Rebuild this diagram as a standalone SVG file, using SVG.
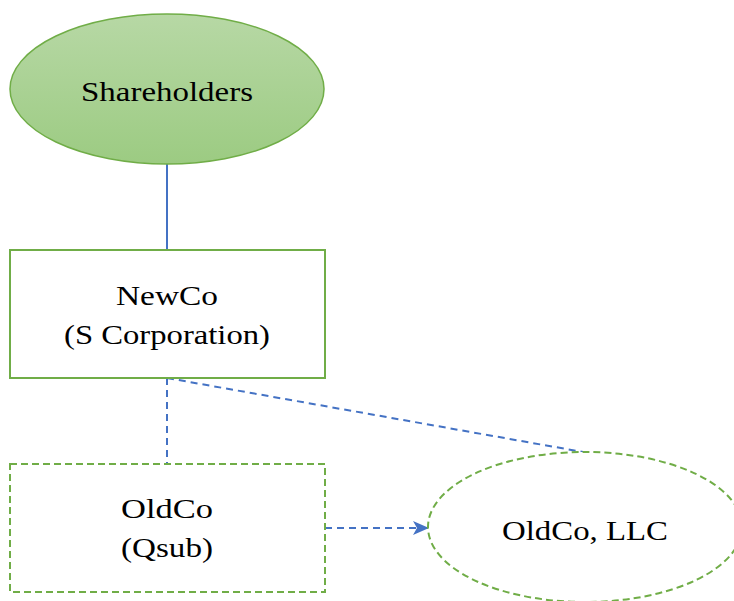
<svg xmlns="http://www.w3.org/2000/svg" width="734" height="601" viewBox="0 0 734 601">
<defs>
<linearGradient id="g" x1="0" y1="0" x2="0" y2="1">
<stop offset="0" stop-color="#b7d8a5"/>
<stop offset="1" stop-color="#9ccb82"/>
</linearGradient>
<marker id="ah" viewBox="0 0 16 14" refX="15" refY="7" markerWidth="16" markerHeight="14" markerUnits="userSpaceOnUse" orient="auto">
<path d="M0,0 L16,7 L0,14 L4,7 Z" fill="#4472c4"/>
</marker>
<style>
text{font-family:"Liberation Serif","Times New Roman",serif;font-size:28px;fill:#000;text-anchor:middle}
.solid{fill:#fff;stroke:#70ad47;stroke-width:2}
.dash{fill:#fff;stroke:#70ad47;stroke-width:2;stroke-dasharray:7 4}
.conn{fill:none;stroke:#4472c4;stroke-width:2}
.cdash{fill:none;stroke:#4472c4;stroke-width:2;stroke-dasharray:7 5}
</style>
</defs>
<rect width="734" height="601" fill="#fff"/>
<g id="connectors">
<line class="conn" x1="167" y1="164" x2="167" y2="250"/>
<line class="cdash" x1="167" y1="378" x2="167" y2="464"/>
<line class="cdash" x1="167" y1="378" x2="583" y2="452"/>
<line class="cdash" x1="325" y1="528" x2="428" y2="528" marker-end="url(#ah)"/>
</g>
<g id="shareholders">
<ellipse cx="167" cy="89" rx="157" ry="75" fill="url(#g)" stroke="#70ad47" stroke-width="1.5"/>
<text x="167" y="101" textLength="172" lengthAdjust="spacingAndGlyphs">Shareholders</text>
</g>
<g id="newco">
<rect class="solid" x="10" y="250" width="315" height="128"/>
<text x="167" y="305" textLength="102" lengthAdjust="spacingAndGlyphs">NewCo</text>
<text x="167" y="344" textLength="206" lengthAdjust="spacingAndGlyphs">(S Corporation)</text>
</g>
<g id="oldco">
<rect class="dash" x="10" y="464" width="315" height="128"/>
<text x="167" y="518" textLength="92" lengthAdjust="spacingAndGlyphs">OldCo</text>
<text x="167" y="557" textLength="92" lengthAdjust="spacingAndGlyphs">(Qsub)</text>
</g>
<g id="oldco-llc">
<ellipse class="dash" cx="585" cy="527" rx="157" ry="75"/>
<text x="585" y="540" textLength="166" lengthAdjust="spacingAndGlyphs">OldCo, LLC</text>
</g>
</svg>
